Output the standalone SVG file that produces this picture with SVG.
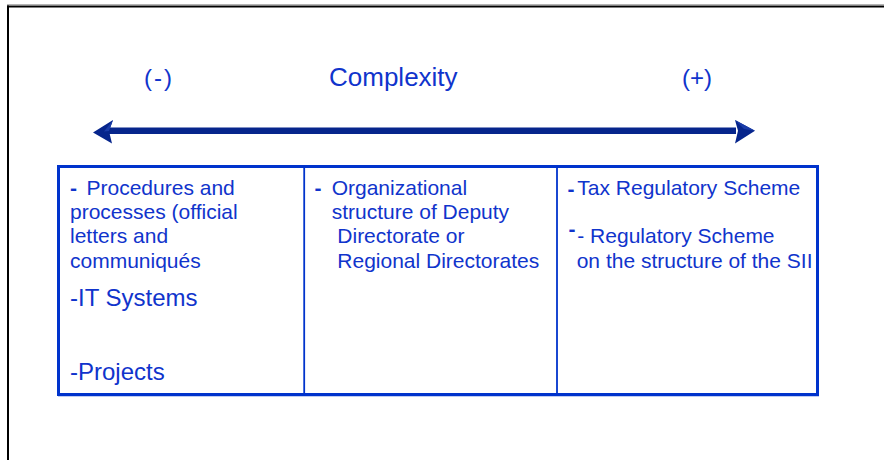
<svg xmlns="http://www.w3.org/2000/svg" width="884" height="460" viewBox="0 0 884 460">
  <style>
    .t { font-family: "Liberation Sans", Arial, sans-serif; fill: #1034cc; }
    .title { font-size: 26px; }
    .sign { font-size: 24px; }
    .item { font-size: 21px; }
    .big { font-size: 24px; }
    .dash { font-weight: bold; }
    .box { fill: #ffffff; stroke: #0033cc; stroke-width: 3; }
    .div { stroke: #0033cc; stroke-width: 1.8; }
    .arrow { fill: #06258c; }
    .facet { fill: #1a3ca8; }
  </style>

  <!-- page frame -->
  <rect x="0" y="0" width="884" height="460" fill="#ffffff"/>
  <line x1="7" y1="4.5" x2="884" y2="4.5" stroke="#b4b4b4" stroke-width="1"/>
  <line x1="7" y1="6.4" x2="884" y2="6.4" stroke="#000000" stroke-width="2"/>
  <line x1="8" y1="5.5" x2="8" y2="460" stroke="#000000" stroke-width="2"/>

  <!-- heading -->
  <g id="heading">
    <text class="t sign" x="144" y="86" textLength="28" lengthAdjust="spacing">(-)</text>
    <text class="t title" x="329" y="86">Complexity</text>
    <text class="t sign" x="682" y="86">(+)</text>
  </g>

  <!-- double-headed complexity axis -->
  <g id="connectors">
    <rect class="arrow" x="108" y="127.5" width="628" height="6.5"/>
    <path class="arrow" d="M93,132.5 L113,120 L109,131 L112,143.5 Z"/>
    <path class="facet" d="M113,120 L109,131 L104,131.5 Z"/>
    <path class="arrow" d="M755,130.8 L735,120 L738,130.8 L735,143.5 Z"/>
    <path class="facet" d="M735,120 L755,130.8 L744,129 Z"/>
  </g>

  <!-- table frame -->
  <g id="table">
    <rect class="box" x="58.5" y="166.5" width="759" height="228"/>
    <line x1="58" y1="395.5" x2="819" y2="395.5" stroke="#0033cc" stroke-width="1.5"/>
    <line class="div" x1="304.2" y1="166.5" x2="304.2" y2="394.5"/>
    <line class="div" x1="557" y1="166.5" x2="557" y2="394.5"/>
  </g>

  <!-- low complexity column -->
  <g id="col-low">
    <text class="t item dash" x="70" y="195">-</text>
    <text class="t item" x="86.5" y="195">Procedures and</text>
    <text class="t item" x="70" y="219.3">processes (official</text>
    <text class="t item" x="70" y="243.3">letters and</text>
    <text class="t item" x="70" y="268.3">communiqués</text>
    <text class="t big" x="70" y="305.7">-IT Systems</text>
    <text class="t big" x="70" y="380">-Projects</text>
  </g>

  <!-- medium complexity column -->
  <g id="col-mid">
    <text class="t item dash" x="314.5" y="195">-</text>
    <text class="t item" x="331.7" y="195">Organizational</text>
    <text class="t item" x="331.7" y="219.3">structure of Deputy</text>
    <text class="t item" x="337.3" y="243.3">Directorate or</text>
    <text class="t item" x="337.3" y="268.3">Regional Directorates</text>
  </g>

  <!-- high complexity column -->
  <g id="col-high">
    <text class="t item dash" x="567.5" y="196">-</text>
    <text class="t item" x="577.3" y="195">Tax Regulatory Scheme</text>
    <text class="t item dash" x="568.5" y="236">-</text>
    <text class="t item" x="577.3" y="243.3">- Regulatory Scheme</text>
    <text class="t item" x="576.7" y="268.3">on the structure of the SII</text>
  </g>
</svg>
